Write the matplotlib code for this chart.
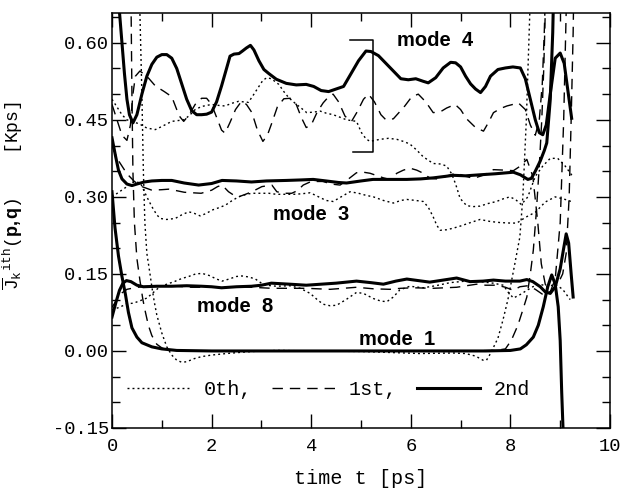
import numpy as np
import matplotlib
matplotlib.use("Agg")
import matplotlib.pyplot as plt
from matplotlib.ticker import MultipleLocator, FormatStrFormatter

# ---- data (time [ps], J [Kps]) ----
# mode 4
m4_0 = np.array([(0.0,0.49),(0.1,0.475),(0.2,0.46),(0.3,0.45),(0.43,0.446),(0.55,0.442),(0.7,0.434),
    (0.87,0.431),(1.0,0.437),(1.2,0.447),(1.44,0.45),(1.55,0.458),(1.67,0.47),(1.8,0.476),(2.0,0.48),
    (2.15,0.478),(2.27,0.477),(2.4,0.482),(2.54,0.486),(2.74,0.484),(2.85,0.5),(2.95,0.515),(3.03,0.527),
    (3.11,0.532),(3.2,0.53),(3.35,0.519),(3.45,0.505),(3.55,0.493),(3.68,0.482),(3.81,0.472),(3.91,0.464),
    (4.05,0.465),(4.18,0.467),(4.3,0.463),(4.44,0.46),(4.58,0.455),(4.71,0.45),(4.91,0.447),(5.01,0.425),
    (5.1,0.413),(5.18,0.408),(5.38,0.412),(5.55,0.414),(5.72,0.412),(5.85,0.408),(5.98,0.403),(6.12,0.391),
    (6.25,0.378),(6.45,0.365),(6.6,0.364),(6.72,0.36),(6.82,0.345),(6.9,0.325),(6.99,0.297),(7.12,0.283),
    (7.25,0.281),(7.39,0.282),(7.55,0.287),(7.72,0.291),(7.85,0.296),(7.99,0.3),(8.1,0.295),(8.22,0.285),
    (8.35,0.3),(8.5,0.34),(8.65,0.36),(8.8,0.375),(8.95,0.375),(9.1,0.36),(9.25,0.34)])
m4_1 = np.array([(0.0,0.48),(0.1,0.45),(0.2,0.42),(0.3,0.41),(0.37,0.44),(0.42,0.5),(0.47,0.535),(0.56,0.545),
    (0.7,0.535),(0.87,0.516),(1.05,0.505),(1.2,0.495),(1.3,0.47),(1.37,0.455),(1.44,0.447),(1.55,0.46),
    (1.67,0.48),(1.8,0.492),(1.9,0.492),(2.0,0.48),(2.1,0.455),(2.2,0.43),(2.27,0.424),(2.37,0.445),
    (2.48,0.47),(2.6,0.486),(2.7,0.48),(2.81,0.464),(2.92,0.43),(3.03,0.408),(3.12,0.42),(3.21,0.444),
    (3.32,0.475),(3.45,0.491),(3.58,0.492),(3.7,0.48),(3.8,0.455),(3.9,0.435),(4.0,0.44),(4.12,0.465),
    (4.24,0.483),(4.35,0.495),(4.44,0.5),(4.55,0.485),(4.68,0.457),(4.81,0.447),(4.92,0.465),(5.05,0.49),
    (5.15,0.5),(5.27,0.485),(5.4,0.46),(5.5,0.45),(5.65,0.452),(5.77,0.465),(5.88,0.477),(6.02,0.495),
    (6.15,0.5),(6.3,0.485),(6.45,0.464),(6.6,0.466),(6.72,0.473),(6.89,0.48),(7.0,0.47),(7.12,0.452),
    (7.3,0.435),(7.46,0.428),(7.56,0.445),(7.66,0.464),(7.8,0.472),(7.93,0.477),(8.05,0.48),(8.16,0.483),
    (8.3,0.47),(8.4,0.44),(8.5,0.42),(8.58,0.45),(8.64,0.52),(8.68,0.62),(8.72,0.75)])
m4_2 = np.array([(0.1,0.75),(0.15,0.66),(0.2,0.6),(0.25,0.54),(0.3,0.49),(0.35,0.46),(0.42,0.444),(0.5,0.46),
    (0.6,0.5),(0.7,0.535),(0.8,0.558),(0.9,0.572),(1.0,0.577),(1.1,0.577),(1.2,0.57),(1.3,0.55),(1.4,0.52),
    (1.5,0.49),(1.6,0.468),(1.7,0.46),(1.8,0.46),(1.9,0.461),(2.0,0.465),(2.1,0.485),(2.2,0.516),(2.3,0.55),
    (2.37,0.574),(2.45,0.578),(2.55,0.579),(2.62,0.584),(2.7,0.59),(2.78,0.595),(2.85,0.586),(2.95,0.565),
    (3.05,0.548),(3.15,0.54),(3.3,0.529),(3.5,0.521),(3.7,0.518),(3.9,0.519),(4.05,0.515),(4.2,0.507),
    (4.35,0.505),(4.5,0.51),(4.65,0.515),(4.8,0.54),(4.95,0.565),(5.1,0.584),(5.2,0.583),(5.35,0.575),
    (5.5,0.56),(5.65,0.545),(5.8,0.53),(5.95,0.528),(6.1,0.53),(6.25,0.525),(6.35,0.522),(6.5,0.532),
    (6.65,0.551),(6.8,0.562),(6.9,0.561),(7.0,0.553),(7.1,0.535),(7.2,0.52),(7.3,0.51),(7.4,0.503),
    (7.5,0.515),(7.6,0.535),(7.75,0.548),(7.9,0.551),(8.05,0.553),(8.2,0.551),(8.3,0.53),(8.4,0.49),
    (8.5,0.45),(8.58,0.425),(8.65,0.421),(8.72,0.44),(8.8,0.5),(8.9,0.57),(9.0,0.58),(9.08,0.56),
    (9.15,0.51),(9.23,0.453)])

# mode 3
m3_0 = np.array([(0.0,0.3),(0.15,0.31),(0.3,0.32),(0.45,0.33),(0.57,0.327),(0.7,0.3),(0.8,0.281),(0.9,0.265),
    (0.97,0.258),(1.1,0.256),(1.27,0.258),(1.4,0.265),(1.54,0.271),(1.65,0.268),(1.77,0.263),(1.9,0.268),
    (2.0,0.274),(2.15,0.279),(2.28,0.284),(2.4,0.292),(2.54,0.3),(2.7,0.305),(2.81,0.307),(3.0,0.307),
    (3.15,0.307),(3.3,0.305),(3.48,0.305),(3.65,0.305),(3.81,0.306),(3.98,0.308),(4.15,0.3),(4.3,0.293),
    (4.44,0.291),(4.6,0.3),(4.78,0.31),(4.95,0.307),(5.1,0.303),(5.25,0.3),(5.45,0.293),(5.65,0.288),
    (5.8,0.293),(5.92,0.295),(6.1,0.293),(6.25,0.291),(6.35,0.28),(6.45,0.261),(6.52,0.245),(6.59,0.235),
    (6.72,0.236),(6.85,0.239),(6.99,0.243),(7.2,0.25),(7.39,0.256),(7.6,0.252),(7.79,0.25),(8.0,0.249),
    (8.13,0.249),(8.3,0.26),(8.5,0.27),(8.7,0.29),(8.9,0.3),(9.1,0.295),(9.25,0.29)])
m3_1 = np.array([(0.0,0.4),(0.1,0.375),(0.2,0.36),(0.3,0.345),(0.45,0.33),(0.6,0.32),(0.8,0.313),(1.0,0.314),
    (1.14,0.315),(1.3,0.312),(1.45,0.309),(1.61,0.308),(1.79,0.307),(2.0,0.313),(2.12,0.32),(2.21,0.323),
    (2.34,0.31),(2.45,0.303),(2.54,0.3),(2.68,0.305),(2.81,0.31),(3.01,0.32),(3.21,0.323),(3.31,0.31),
    (3.45,0.307),(3.61,0.307),(3.72,0.312),(3.84,0.323),(4.0,0.33),(4.24,0.33),(4.4,0.325),(4.58,0.323),
    (4.75,0.335),(4.91,0.347),(5.05,0.348),(5.18,0.346),(5.3,0.342),(5.45,0.337),(5.58,0.334),(5.72,0.346),
    (5.85,0.352),(5.98,0.356),(6.12,0.352),(6.25,0.346),(6.39,0.336),(6.52,0.335),(6.65,0.338),(6.8,0.343),
    (6.92,0.346),(7.1,0.34),(7.26,0.336),(7.45,0.342),(7.66,0.353),(7.9,0.352),(8.06,0.351),(8.2,0.36),
    (8.33,0.373),(8.45,0.34),(8.55,0.25),(8.62,0.17),(8.7,0.13),(8.8,0.115),(8.9,0.14),(9.0,0.25),
    (9.07,0.45),(9.12,0.66),(9.15,0.8)])
m3_2 = np.array([(0.0,0.415),(0.07,0.38),(0.13,0.352),(0.2,0.335),(0.3,0.325),(0.4,0.322),(0.5,0.325),
    (0.65,0.329),(0.8,0.331),(1.0,0.332),(1.2,0.332),(1.45,0.327),(1.74,0.323),(2.0,0.326),(2.21,0.332),
    (2.5,0.331),(2.8,0.329),(3.1,0.331),(3.5,0.332),(3.8,0.333),(4.04,0.334),(4.3,0.331),(4.55,0.328),
    (4.71,0.327),(5.0,0.331),(5.24,0.334),(5.6,0.334),(5.92,0.334),(6.2,0.335),(6.45,0.337),(6.7,0.34),
    (6.85,0.342),(7.1,0.341),(7.39,0.343),(7.7,0.345),(8.06,0.348),(8.2,0.343),(8.35,0.334),(8.42,0.336),
    (8.5,0.35),(8.6,0.37),(8.68,0.39),(8.73,0.405),(8.8,0.489),(8.85,0.62),(8.88,0.75)])

# mode 8
m8_0 = np.array([(0.0,0.08),(0.15,0.085),(0.3,0.092),(0.43,0.093),(0.57,0.098),(0.7,0.103),(0.82,0.113),
    (0.96,0.125),(1.1,0.13),(1.25,0.135),(1.4,0.141),(1.54,0.145),(1.68,0.15),(1.81,0.151),(1.95,0.147),
    (2.1,0.14),(2.21,0.136),(2.35,0.14),(2.5,0.145),(2.61,0.146),(2.75,0.144),(2.88,0.14),(3.0,0.132),
    (3.1,0.128),(3.3,0.126),(3.57,0.127),(3.78,0.122),(3.98,0.112),(4.12,0.1),(4.24,0.091),(4.38,0.088),
    (4.51,0.089),(4.7,0.1),(4.91,0.114),(5.05,0.112),(5.25,0.102),(5.4,0.097),(5.52,0.096),(5.65,0.105),
    (5.78,0.119),(5.98,0.126),(6.25,0.123),(6.5,0.127),(6.79,0.133),(7.1,0.136),(7.39,0.135),(7.65,0.132),
    (7.86,0.128),(7.95,0.115),(8.06,0.103),(8.2,0.11),(8.33,0.118),(8.45,0.125),(8.6,0.13),(8.75,0.125),
    (8.9,0.13),(9.05,0.12),(9.2,0.1)])
m8_1 = np.array([(0.0,0.085),(0.1,0.1),(0.2,0.113),(0.3,0.12),(0.45,0.123),(0.6,0.125),(0.8,0.126),(1.0,0.127),
    (1.3,0.126),(1.6,0.124),(2.0,0.124),(2.4,0.125),(2.8,0.124),(3.21,0.122),(3.5,0.122),(3.9,0.122),
    (4.38,0.12),(4.91,0.124),(5.25,0.121),(5.58,0.12),(5.8,0.122),(6.05,0.123),(6.45,0.122),(6.92,0.124),
    (7.32,0.13),(7.5,0.128),(7.73,0.128),(7.9,0.124),(8.06,0.118),(8.19,0.125),(8.35,0.127),(8.5,0.12),
    (8.65,0.11),(8.8,0.115),(8.95,0.13),(9.05,0.15),(9.12,0.19),(9.18,0.3),(9.22,0.45),(9.26,0.62),(9.28,0.75)])
m8_2 = np.array([(0.0,0.066),(0.08,0.095),(0.15,0.118),(0.22,0.132),(0.29,0.137),(0.38,0.135),(0.5,0.128),
    (0.63,0.125),(0.9,0.126),(1.2,0.126),(1.5,0.127),(1.8,0.126),(2.0,0.125),(2.2,0.123),(2.5,0.125),
    (2.8,0.126),(3.0,0.128),(3.2,0.132),(3.57,0.13),(3.9,0.128),(4.2,0.13),(4.5,0.132),(4.91,0.136),
    (5.2,0.133),(5.45,0.13),(5.7,0.136),(5.92,0.14),(6.15,0.137),(6.38,0.134),(6.65,0.138),(6.92,0.142),
    (7.19,0.135),(7.45,0.136),(7.66,0.138),(7.9,0.136),(8.19,0.136),(8.33,0.139),(8.45,0.135),(8.6,0.125),
    (8.7,0.115),(8.8,0.112),(8.9,0.125),(9.0,0.16),(9.07,0.2),(9.12,0.228),(9.17,0.21),(9.22,0.15),(9.26,0.105)])

# mode 1
m1_0 = np.array([(0.5,0.9),(0.55,0.7),(0.6,0.5),(0.63,0.35),(0.66,0.25),(0.7,0.19),(0.76,0.152),(0.8,0.125),
    (0.85,0.095),(0.9,0.07),(1.0,0.035),(1.1,0.008),(1.2,-0.008),(1.3,-0.018),(1.4,-0.022),(1.5,-0.021),
    (1.65,-0.015),(1.8,-0.011),(2.0,-0.008),(2.3,-0.005),(2.67,-0.002),(3.0,0.0),(3.34,0.001),(4.0,0.0),
    (5.0,-0.001),(6.18,-0.005),(6.85,-0.004),(7.1,-0.005),(7.3,-0.01),(7.45,-0.018),(7.52,-0.018),
    (7.6,-0.005),(7.75,0.025),(7.85,0.06),(7.95,0.1),(8.07,0.16),(8.19,0.222),(8.25,0.3),(8.32,0.45),
    (8.39,0.66),(8.45,0.8)])
m1_1 = np.array([(0.35,0.9),(0.38,0.7),(0.4,0.5),(0.42,0.35),(0.45,0.25),(0.5,0.18),(0.56,0.138),(0.62,0.1),
    (0.67,0.076),(0.73,0.05),(0.8,0.03),(0.9,0.013),(1.0,0.006),(1.1,0.002),(1.5,0.0),(3.0,0.0),(5.0,0.0),
    (7.0,0.0),(7.7,0.001),(7.9,0.004),(8.02,0.021),(8.15,0.05),(8.25,0.08),(8.33,0.105),(8.4,0.15),
    (8.46,0.196),(8.52,0.27),(8.58,0.36),(8.63,0.45),(8.67,0.55),(8.7,0.66),(8.73,0.8)])
m1_2 = np.array([(0.0,0.31),(0.06,0.24),(0.13,0.185),(0.2,0.145),(0.27,0.11),(0.33,0.075),(0.4,0.045),
    (0.5,0.027),(0.6,0.016),(0.8,0.008),(1.0,0.004),(1.3,0.001),(2.0,0.0),(4.0,0.0),(6.0,0.0),(7.5,0.0),
    (8.0,0.001),(8.2,0.004),(8.32,0.012),(8.46,0.027),(8.56,0.05),(8.66,0.086),(8.75,0.125),(8.83,0.148),
    (8.9,0.13),(8.96,0.086),(9.0,0.02),(9.03,-0.08),(9.06,-0.16)])

order_labels = ['0th,', '1st,', '2nd']
mode_names = ['mode  4', 'mode  3', 'mode  8', 'mode  1']
mode_label_pos = [(6.49, 0.605), (4.0, 0.265), (2.47, 0.086), (5.72, 0.023)]
bracket_x = [4.77, 5.25, 5.25, 4.84]
bracket_y = [0.6045, 0.6045, 0.388, 0.388]

plt.rcParams['mathtext.fontset'] = 'custom'
plt.rcParams['mathtext.rm'] = 'Liberation Mono'
plt.rcParams['mathtext.it'] = 'Liberation Mono'
plt.rcParams['mathtext.bf'] = 'Liberation Sans:bold'

mono = 'Liberation Mono'
dot = (0, (1.4, 2.2))
dash = (0, (7.5, 5))

fig = plt.figure(figsize=(6.22, 4.88), dpi=100)
ax = fig.add_axes([112/622, 1-428/488, 498/622, 415/488])

groups = [(m4_0, m4_1, m4_2), (m3_0, m3_1, m3_2), (m8_0, m8_1, m8_2), (m1_0, m1_1, m1_2)]
for gi, (c0, c1, c2) in enumerate(groups):
    lab = order_labels if gi == 3 else [None, None, None]
    ax.plot(c0[:, 0], c0[:, 1], color='black', lw=1.0, ls=dot, label=lab[0])
    ax.plot(c1[:, 0], c1[:, 1], color='black', lw=1.0, ls=dash, label=lab[1])
    ax.plot(c2[:, 0], c2[:, 1], color='black', lw=2.2, ls='-', label=lab[2])

ax.plot(bracket_x, bracket_y, color='black', lw=1.1)

for name, (tx, ty) in zip(mode_names, mode_label_pos):
    ax.text(tx, ty, name, ha='center', va='center', fontsize=14.5,
            fontweight='bold', family='Liberation Sans')

ax.set_xlim(0, 10)
ax.set_ylim(-0.15, 0.658)
ax.xaxis.set_major_locator(MultipleLocator(2))
ax.xaxis.set_minor_locator(MultipleLocator(1))
ax.yaxis.set_major_locator(MultipleLocator(0.15))
ax.yaxis.set_minor_locator(MultipleLocator(0.05))
ax.yaxis.set_major_formatter(FormatStrFormatter('%.2f'))
ax.tick_params(which='both', direction='in', top=True, right=True, width=1.0)
ax.tick_params(which='major', length=10)
ax.tick_params(which='minor', length=6)
ax.tick_params(axis='y', pad=2)
ax.tick_params(axis='x', pad=7)
for lbl in ax.get_xticklabels() + ax.get_yticklabels():
    lbl.set_fontfamily(mono)
    lbl.set_fontsize(13.5)
for s in ax.spines.values():
    s.set_linewidth(1.1)

ax.set_xlabel('time t [ps]', family=mono, fontsize=14.5, labelpad=10)
ax.set_ylabel(r'$\overline{\mathrm{J}}_{\mathrm{k}}{}^{\mathrm{ith}}\mathrm{(}\mathbf{p,q}\mathrm{)}$    [Kps]',
              family=mono, fontsize=13)
ax.yaxis.set_label_coords(-0.175, 0.56)

leg = ax.legend(loc='center', bbox_to_anchor=(4.35, -0.076), bbox_transform=ax.transData,
                ncol=3, frameon=False, handlelength=3.1, handletextpad=0.7, columnspacing=1.0,
                prop={'family': mono, 'size': 14.5})

fig.savefig('out.png', dpi=100)
